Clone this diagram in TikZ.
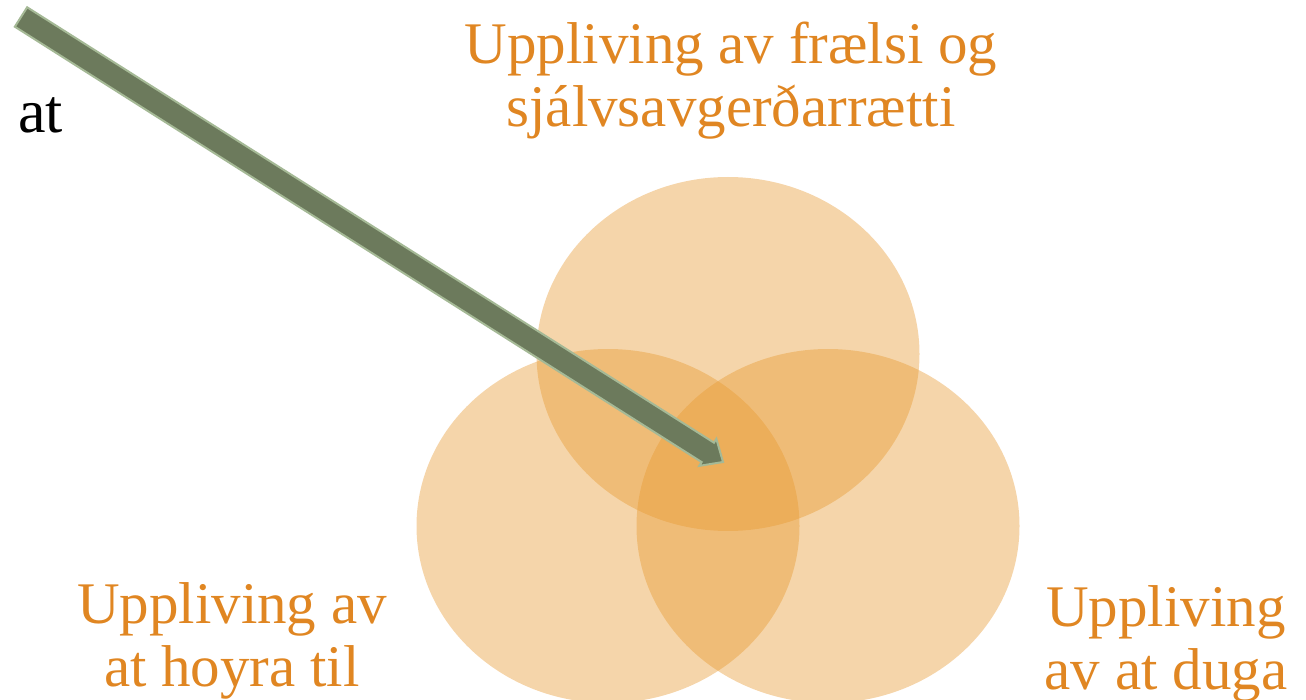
\documentclass[tikz,border=0pt]{standalone}
\usepackage{fontspec}
\setmainfont{Liberation Serif}
\newfontfamily\wordfont{Liberation Serif}
\usetikzlibrary{calc,shapes.geometric}
\definecolor{petal}{RGB}{231,153,48}
\definecolor{labelorange}{RGB}{224,134,34}
\definecolor{barfill}{RGB}{108,122,92}
\definecolor{baredge}{RGB}{165,185,150}
\begin{document}
\begin{tikzpicture}[x=1pt,y=-1pt,
  petalshape/.style={ellipse, fill=petal, fill opacity=0.41, draw=none,
    minimum width=383pt, minimum height=354pt, inner sep=0pt},
  labeltext/.style={text=labelorange, font=\wordfont\fontsize{59}{63}\selectfont,
    align=center, inner sep=0pt, anchor=base},
  plaintext/.style={text=black, font=\wordfont\fontsize{62}{66}\selectfont,
    inner sep=0pt, anchor=base west},
  pointer/.style={fill=barfill, draw=baredge, line width=2pt, line join=miter},
  pointershadow/.style={fill=black, opacity=0.18, draw=none},
]
\useasboundingbox (0,0) rectangle (1306,700);
\clip (0,0) rectangle (1306,700);

% three overlapping petals
\node[petalshape] (freedomset) at (728,354) {};
\node[petalshape] (belongset)  at (608,526) {};
\node[petalshape] (abilityset) at (828,526) {};

% captions (anchored on the baseline of their last line)
\node[labeltext] (freedom) at (731,127) {Uppliving av frælsi og\\sjálvsavgerðarrætti};
\node[labeltext] (belong)  at (232,686) {Uppliving av\\at hoyra til};
\node[labeltext] (ability) at (1166,689) {Uppliving\\av at duga};
\node[plaintext] (word) at (18,133) {at};

% fat pointer into the common core
\coordinate (tail) at (21,17);
\coordinate (tip) at (723,462);
\coordinate (hb) at ($(tip)!18pt!(tail)$);
\begin{scope}[shift={(2,3)}]
\fill[pointershadow]
  ($(tail)!11.5pt!90:(tip)$) -- ($(hb)!11.5pt!90:(tip)$) -- ($(hb)!16pt!90:(tip)$)
  -- (tip) -- ($(hb)!16pt!-90:(tip)$) -- ($(hb)!11.5pt!-90:(tip)$)
  -- ($(tail)!11.5pt!-90:(tip)$) -- cycle;
\end{scope}
\filldraw[pointer]
  ($(tail)!11.5pt!90:(tip)$) -- ($(hb)!11.5pt!90:(tip)$) -- ($(hb)!16pt!90:(tip)$)
  -- (tip) -- ($(hb)!16pt!-90:(tip)$) -- ($(hb)!11.5pt!-90:(tip)$)
  -- ($(tail)!11.5pt!-90:(tip)$) -- cycle;
\end{tikzpicture}
\end{document}
